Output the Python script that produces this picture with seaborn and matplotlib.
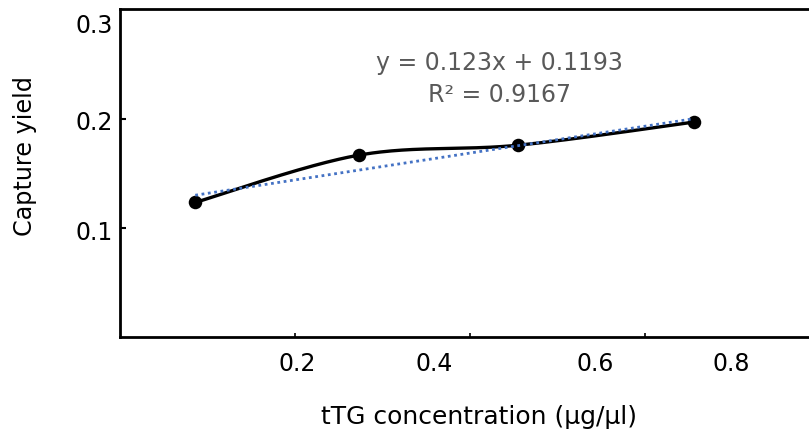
import numpy as np
import matplotlib
matplotlib.use("Agg")
import matplotlib.pyplot as plt
import seaborn as sns

# Measured capture yield at each tTG concentration
concentration = [0.086, 0.273, 0.455, 0.656]
capture_yield = [0.1233, 0.1666, 0.1757, 0.1969]

# Linear trend line reported on the chart
slope = 0.123
intercept = 0.1193
r_squared = 0.9167

# Axis tick marks and their labels
x_tick_marks = [0.2, 0.4, 0.6]
x_tick_labels = ["0.2", "0.4", "0.6", "0.8"]
y_tick_marks = [0.1, 0.2]
y_tick_labels = ["0.1", "0.2", "0.3"]

# Where the tick labels sit along each axis
x_label_at = [0.203, 0.359, 0.543, 0.699]
y_label_at = [0.098, 0.198, 0.287]


def smooth_bezier(x, y, steps=60):
    """Piecewise cubic Bezier through the points (spreadsheet-style smoothing)."""
    p = np.column_stack([x, y]).astype(float)
    n = len(p)
    out = []
    for i in range(n - 1):
        p_prev = p[i - 1] if i > 0 else p[i]
        p_next2 = p[i + 2] if i + 2 < n else p[i + 1]
        c1 = p[i] + (p[i + 1] - p_prev) / 6.0
        c2 = p[i + 1] - (p_next2 - p[i]) / 6.0
        t = np.linspace(0, 1, steps)[:, None]
        seg = ((1 - t) ** 3) * p[i] + 3 * ((1 - t) ** 2) * t * c1 \
            + 3 * (1 - t) * t ** 2 * c2 + t ** 3 * p[i + 1]
        out.append(seg if i == 0 else seg[1:])
    out = np.vstack(out)
    return out[:, 0], out[:, 1]


sns.set_theme(style="white")
plt.rcParams["font.family"] = ["DejaVu Sans"]

fig = plt.figure(figsize=(8.09, 4.36), dpi=100)
ax = fig.add_axes([120 / 809, 99 / 436, 700 / 809, 327.5 / 436])
ax.set_xlim(0, 0.8)
ax.set_ylim(0, 0.3)

# Smoothed connecting line
cx, cy = smooth_bezier(concentration, capture_yield)
sns.lineplot(x=cx, y=cy, sort=False, color="black", linewidth=2.4,
             ax=ax, zorder=2)

# Data points
sns.scatterplot(x=concentration, y=capture_yield, color="black", s=95,
                linewidth=0, ax=ax, zorder=3)

# Dotted linear trend line
tx = np.array([min(concentration), max(concentration)])
ax.plot(tx, slope * tx + intercept, color="#4472C4", linewidth=2.0,
        linestyle=(0, (1, 1.3)), zorder=4)

# Trend line equation
ax.text(0.434, 0.2512, f"y = {slope:.3f}x + {intercept:.4f}", ha="center",
        va="center", color="#595959", fontsize=17)
ax.text(0.434, 0.2216, f"R\u00b2 = {r_squared:.4f}", ha="center",
        va="center", color="#595959", fontsize=17)

# Spines
for side in ["left", "bottom", "top"]:
    ax.spines[side].set_visible(True)
    ax.spines[side].set_color("black")
    ax.spines[side].set_linewidth(2.0)
ax.spines["right"].set_visible(False)

# Ticks: labels as major ticks, marks as minor ticks
ax.set_xticks(x_label_at)
ax.set_xticklabels(x_tick_labels)
ax.set_xticks(x_tick_marks, minor=True)
ax.set_yticks(y_label_at)
ax.set_yticklabels(y_tick_labels)
ax.set_yticks(y_tick_marks, minor=True)
ax.tick_params(axis="both", which="major", length=0, labelsize=17,
               labelcolor="black")
ax.tick_params(axis="x", which="major", pad=11)
ax.tick_params(axis="y", which="major", pad=5)
ax.tick_params(axis="x", which="minor", direction="in", length=3,
               width=1.2, color="black", bottom=True)
ax.tick_params(axis="y", which="minor", direction="in", length=4.5,
               width=1.5, color="black", left=True)
ax.grid(False)

# Axis titles
ax.set_xlabel("tTG concentration (\u00b5g/\u00b5l)", fontsize=18, color="black",
              va="center")
ax.xaxis.set_label_coords(0.513, -0.244)
ax.set_ylabel("Capture yield", fontsize=17.2, color="black", va="center")
ax.yaxis.set_label_coords(-0.1357, 0.553)

fig.savefig("out.png", dpi=100)
